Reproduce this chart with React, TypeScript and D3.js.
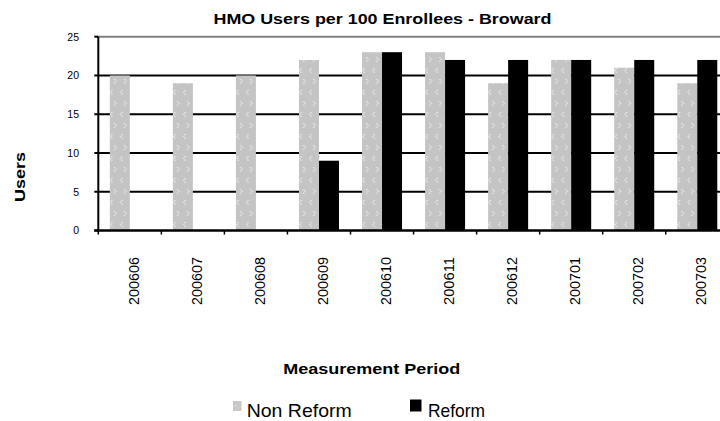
import React from "react";
import * as d3 from "d3";

// Measurement periods (category axis)
const periods = [
  "200606", "200607", "200608", "200609", "200610",
  "200611", "200612", "200701", "200702", "200703",
];

// HMO users per 100 enrollees, by series
const nonReform = [20, 19, 20, 22, 23, 23, 19, 22, 21, 19];
const reform: (number | null)[] = [null, null, null, 9, 23, 22, 22, 22, 22, 22];

const seriesNames = ["Non Reform", "Reform"];
const yTicks = [0, 5, 10, 15, 20, 25];

const W = 720;
const H = 421;
const plot = { left: 98.3, right: 728.8, top: 36.7, bottom: 230.5 };

const FONT = "'Liberation Sans', Arial, Helvetica, sans-serif";

export default function App() {
  const x = d3
    .scaleBand<string>()
    .domain(periods)
    .range([plot.left, plot.right])
    .paddingInner(0)
    .paddingOuter(0);

  const x1 = d3
    .scaleBand<string>()
    .domain(seriesNames)
    .range([0, x.bandwidth()])
    .paddingInner(0)
    .paddingOuter(0.576);

  const y = d3.scaleLinear().domain([0, 25]).range([plot.bottom, plot.top]);

  const rows = periods.map((p, i) => ({
    period: p,
    values: [
      { name: "Non Reform", value: nonReform[i] as number | null },
      { name: "Reform", value: reform[i] },
    ],
  }));

  // category boundary ticks on the x axis
  const boundaries = periods.map((p) => x(p) as number).concat([plot.right]);

  const dot = "#f2f2f2";

  return (
    <svg
      width={W}
      height={H}
      viewBox={`0 0 ${W} ${H}`}
      style={{ position: "absolute", left: 0, top: 0, background: "#fff" }}
      fontFamily={FONT}
    >
      <defs>
        <pattern
          id="dots"
          patternUnits="userSpaceOnUse"
          width={10}
          height={22}
          x={0}
          y={0}
        >
          <rect width={10} height={22} fill="#c4c4c4" />
          {/* "<" chevron */}
          <rect x={3} y={2} width={1.2} height={1.2} fill={dot} />
          <rect x={1.8} y={3.8} width={1.2} height={1.2} fill={dot} />
          <rect x={3} y={5.6} width={1.2} height={1.2} fill={dot} />
          {/* ">" chevron */}
          <rect x={5.8} y={13} width={1.2} height={1.2} fill={dot} />
          <rect x={7} y={14.8} width={1.2} height={1.2} fill={dot} />
          <rect x={5.8} y={16.6} width={1.2} height={1.2} fill={dot} />
        </pattern>
      </defs>

      {/* title */}
      <text
        x={382.5}
        y={24}
        textAnchor="middle"
        fontSize={15.5}
        fontWeight="bold"
        textLength={338}
        lengthAdjust="spacingAndGlyphs"
      >
        HMO Users per 100 Enrollees -  Broward
      </text>

      {/* horizontal gridlines */}
      {yTicks
        .filter((t) => t > 0)
        .map((t) => (
          <line
            key={`g${t}`}
            x1={plot.left}
            x2={plot.right}
            y1={y(t)}
            y2={y(t)}
            stroke={t === 25 ? "#808080" : "#000"}
            strokeWidth={2}
          />
        ))}

      {/* bars */}
      {rows.map((r) => (
        <g key={r.period} transform={`translate(${x(r.period)},0)`}>
          {r.values.map((v) =>
            v.value == null ? null : (
              <rect
                key={v.name}
                x={x1(v.name)}
                y={y(v.value)}
                width={x1.bandwidth()}
                height={y(0) - y(v.value)}
                fill={v.name === "Reform" ? "#000" : "url(#dots)"}
              />
            )
          )}
        </g>
      ))}

      {/* y axis */}
      <line
        x1={plot.left}
        x2={plot.left}
        y1={plot.top}
        y2={plot.bottom}
        stroke="#000"
        strokeWidth={2}
      />
      {yTicks.map((t) => (
        <g key={`yt${t}`}>
          <line
            x1={plot.left - 4}
            x2={plot.left}
            y1={y(t)}
            y2={y(t)}
            stroke="#000"
            strokeWidth={2}
          />
          <text x={79} y={y(t) + 3.8} textAnchor="end" fontSize={10.5}>
            {t}
          </text>
        </g>
      ))}

      {/* x axis */}
      <line
        x1={plot.left - 4}
        x2={plot.right}
        y1={plot.bottom}
        y2={plot.bottom}
        stroke="#000"
        strokeWidth={2.5}
      />
      {boundaries.map((b, i) => (
        <line
          key={`xt${i}`}
          x1={b}
          x2={b}
          y1={plot.bottom}
          y2={plot.bottom + 4}
          stroke="#000"
          strokeWidth={1.5}
        />
      ))}
      {periods.map((p) => {
        const cx = (x(p) as number) + x.bandwidth() / 2 + 9;
        return (
          <text
            key={`xl${p}`}
            transform={`translate(${cx},257) rotate(-90)`}
            textAnchor="end"
            fontSize={14.5}
            textLength={48}
            lengthAdjust="spacingAndGlyphs"
          >
            {p}
          </text>
        );
      })}

      {/* axis titles */}
      <text
        transform="translate(25,177) rotate(-90)"
        textAnchor="middle"
        fontSize={15.5}
        fontWeight="bold"
        textLength={50}
        lengthAdjust="spacingAndGlyphs"
      >
        Users
      </text>
      <text
        x={371.7}
        y={374}
        textAnchor="middle"
        fontSize={15.5}
        fontWeight="bold"
        textLength={177}
        lengthAdjust="spacingAndGlyphs"
      >
        Measurement Period
      </text>

      {/* legend */}
      <rect x={233} y={401} width={8.5} height={10} fill="#c8c8c8" />
      <rect x={235.5} y={405} width={1.2} height={1.2} fill={dot} />
      <text
        x={246.7}
        y={417}
        fontSize={19}
        textLength={105}
        lengthAdjust="spacingAndGlyphs"
      >
        Non Reform
      </text>
      <rect x={410} y={399.5} width={11.5} height={12} fill="#000" />
      <text
        x={428}
        y={417}
        fontSize={19}
        textLength={57}
        lengthAdjust="spacingAndGlyphs"
      >
        Reform
      </text>
    </svg>
  );
}
